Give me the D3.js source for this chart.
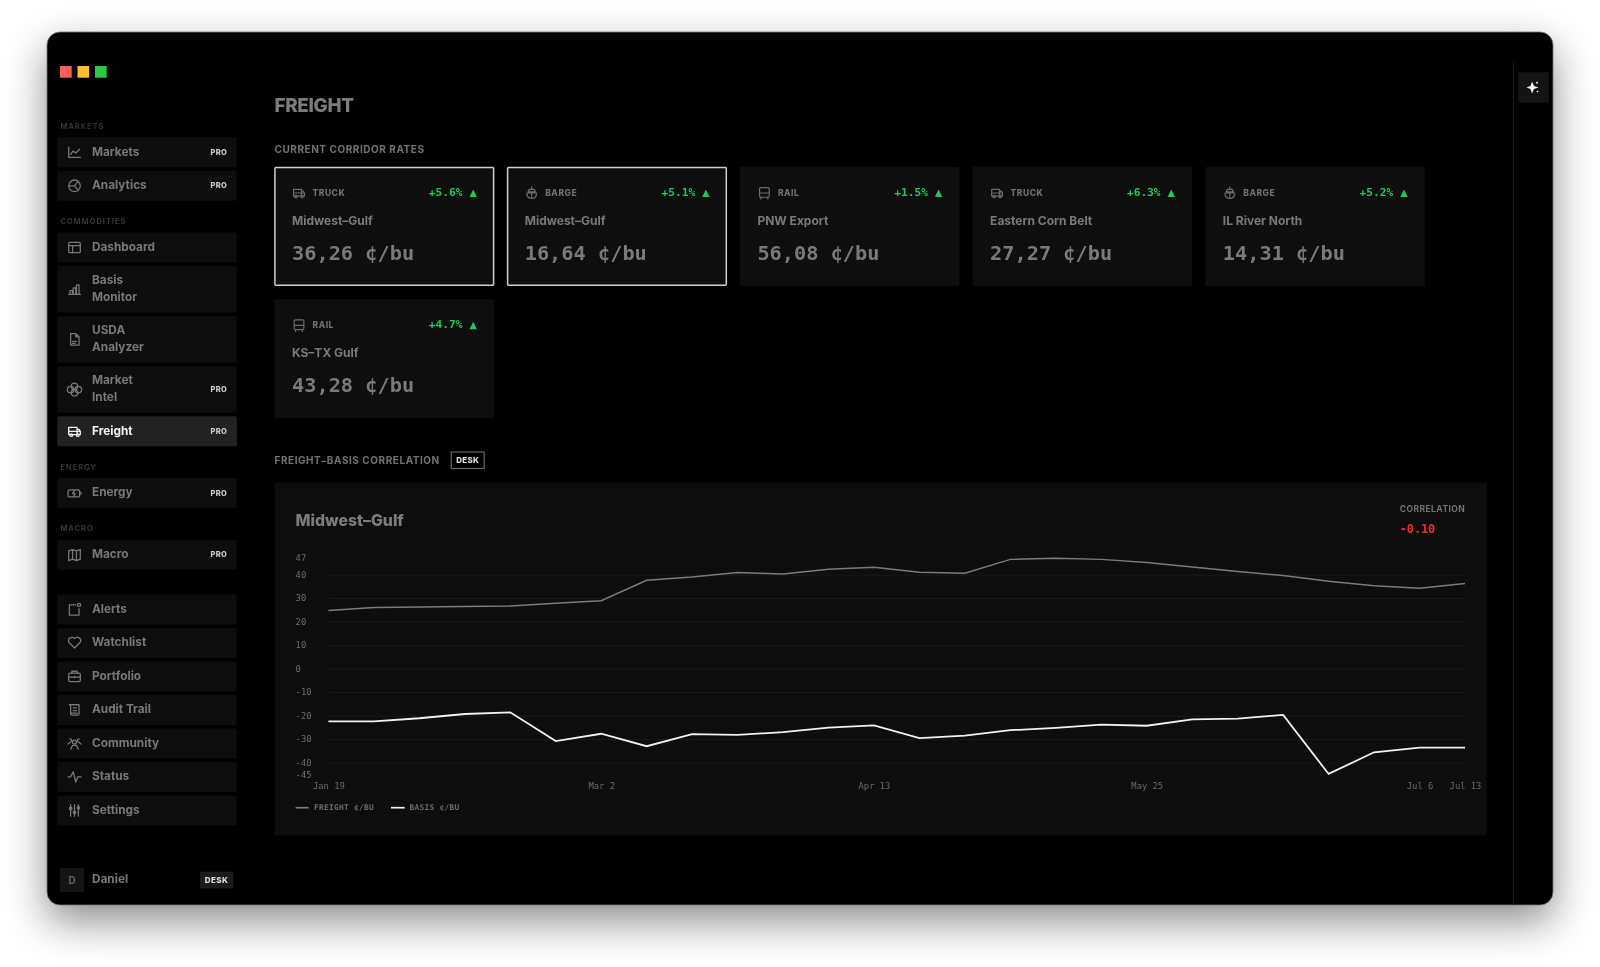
<!DOCTYPE html>
<html>
<head>
<meta charset="utf-8">
<script src="https://cdn.jsdelivr.net/npm/d3@7"></script>
<style>
  html, body { margin: 0; background: #fff; overflow: hidden; }
  svg { display: block; }
  text { dominant-baseline: central; font-family: Inter, sans-serif; }
  .mono { font-family: "DejaVu Sans Mono", monospace; }
  .icon { fill: none; stroke-linecap: round; stroke-linejoin: round; }
  .axis path { display: none; }
</style>
</head>
<body>
<div id="chart"></div>
<script>
// nav
const navGroups = ["MARKETS", "COMMODITIES", "ENERGY", "MACRO", ""];
const navItems = [
  [["Markets"], ["Analytics"]],
  [["Dashboard"], ["Basis", "Monitor"], ["USDA", "Analyzer"], ["Market", "Intel"], ["Freight"]],
  [["Energy"]],
  [["Macro"]],
  [["Alerts"], ["Watchlist"], ["Portfolio"], ["Audit Trail"], ["Community"], ["Status"], ["Settings"]]
];
const proItems = ["Markets", "Analytics", "Market", "Freight", "Energy", "Macro"];

// cards
const cardModes = ["TRUCK", "BARGE", "RAIL", "TRUCK", "BARGE", "RAIL"];
const cardCorridors = ["Midwest–Gulf", "Midwest–Gulf", "PNW Export", "Eastern Corn Belt", "IL River North", "KS–TX Gulf"];
const cardRates = [36.26, 16.64, 56.08, 27.27, 14.31, 43.28];
const cardChanges = [5.6, 5.1, 1.5, 6.3, 5.2, 4.7];

// chart
const weeks = ["Jan 19", "Jan 26", "Feb 2", "Feb 9", "Feb 16", "Feb 23", "Mar 2", "Mar 9", "Mar 16", "Mar 23", "Mar 30", "Apr 6", "Apr 13",
  "Apr 20", "Apr 27", "May 4", "May 11", "May 18", "May 25", "Jun 1", "Jun 8", "Jun 15", "Jun 22", "Jun 29", "Jul 6", "Jul 13"];
const freight = [24.7, 26, 26.2, 26.4, 26.7, 27.8, 28.9, 37.6, 39, 40.9, 40.3, 42.3, 43.1,
  41, 40.6, 46.5, 47, 46.5, 45.2, 43.3, 41.3, 39.6, 37.2, 35.3, 34.2, 36.26];
const basis = [-22.4, -22.4, -21.1, -19.3, -18.6, -30.8, -27.7, -33, -27.9, -28.2, -27, -25.1, -24.1,
  -29.6, -28.5, -26.2, -25.2, -23.8, -24.3, -21.6, -21.3, -19.7, -44.8, -35.6, -33.6, -33.6];
const xLabels = ["Jan 19", "Mar 2", "Apr 13", "May 25", "Jul 6", "Jul 13"];
const yLabels = [47, 40, 30, 20, 10, 0, -10, -20, -30, -40, -45];
const gridValues = [40, 30, 20, 10, 0, -10, -20, -30, -40];
const correlation = -0.10;

const truckIcon = '<path d="M3 6h13v11H3zM16 9h3l2 3v5h-5M3 12h18"/><circle cx="7" cy="18" r="2"/><circle cx="17" cy="18" r="2"/>';
const icons = {
  Markets: '<path d="M3 4v16h18M6 15l4-5 4 3 6-6"/>',
  Analytics: '<circle cx="12" cy="12" r="9"/><path d="M12 12l5-6M12 12H3.500M12 12l5 6"/>',
  Dashboard: '<rect x="3" y="4" width="18" height="16" rx="2"/><path d="M3 9h18M9 9v11"/>',
  Basis: '<path d="M3 20h18M5 20v-6h4v6M10 20V10h4v10M15 20V5h4v15"/>',
  USDA: '<path d="M6 3h8l5 5v13H6zM14 3v5h5M9 15h6M9 18h4"/>',
  Market: '<circle cx="12" cy="7" r="5"/><circle cx="6" cy="12" r="5"/><circle cx="18" cy="12" r="5"/><circle cx="12" cy="17" r="5"/>',
  Freight: truckIcon,
  Energy: '<rect x="2" y="7" width="18" height="11" rx="2"/><path d="M22 11v3M12 8l-3 5h4l-2 4"/>',
  Macro: '<path d="M3 6l6-2 6 2 6-2v15l-6 2-6-2-6 2zM9 4v15M15 6v15"/>',
  Alerts: '<path d="M14 5H4v16h15V11"/><circle cx="19" cy="5" r="2.400"/>',
  Watchlist: '<path d="M12 20l-8.500-8.500a5 5 0 0 1 8.500-6 5 5 0 0 1 8.500 6z"/>',
  Portfolio: '<rect x="3" y="7" width="18" height="13" rx="2"/><path d="M8 7V4h8v3M3 13h18M12 12v2"/>',
  "Audit Trail": '<path d="M8 4h11v14a2 2 0 0 1-2 2H8a2 2 0 0 1-2-2V6a2 2 0 0 0-2-2h4M6 17h10M10 9h5M10 13h5"/>',
  Community: '<circle cx="12" cy="10" r="3"/><path d="M6 21l3-6h6l3 6M5 5a2.500 2.500 0 0 1 2 4L2 13M19 5a2.500 2.500 0 0 0-2 4l5 4"/>',
  Status: '<path d="M2 12h4l4-8 4 16 3-8h5"/>',
  Settings: '<path d="M6 3v18M12 3v18M18 3v18"/><circle cx="6" cy="9" r="2"/><circle cx="12" cy="15" r="2"/><circle cx="18" cy="8" r="2"/>',
  TRUCK: truckIcon,
  BARGE: '<path d="M8 6h8l2 4H6zM12 2v4M4 12h16c0 6-3 9-8 9s-8-3-8-9zM12 12v9"/>',
  RAIL: '<rect x="4" y="3" width="16" height="16" rx="2"/><path d="M4 12h16M7 19l-1 3M17 19l1 3"/>'
};

const svg = d3.select("#chart").append("svg").attr("width", 1600).attr("height", 967);
const root = svg.append("g").style("filter", "blur(0.4px)");

// window
root.append("rect").attr("x", 47).attr("y", 32).attr("width", 1506).attr("height", 873).attr("rx", 13)
  .attr("fill", "#000").attr("stroke", "#777").attr("stroke-width", 0.8)
  .style("filter", "drop-shadow(0 16px 20px rgba(0,0,0,.45))");

root.selectAll(".light").data(["#ff5f57", "#febc2e", "#28c840"]).enter().append("rect")
  .attr("x", (d, i) => 60 + i * 17.5).attr("y", 66).attr("width", 11.7).attr("height", 11.7).attr("fill", d => d);

function icon(parent, name, cx, cy, size, colour, weight) {
  return parent.append("g").attr("class", "icon")
    .attr("transform", `translate(${cx - size / 2},${cy - size / 2}) scale(${size / 24})`)
    .attr("stroke", colour).attr("stroke-width", weight).html(icons[name]);
}

// sidebar
const side = root.append("g");
let navY = 137.3;
navGroups.forEach((title, g) => {
  if (title) {
    side.append("text").attr("x", 60.5).attr("y", navY - 11).text(title)
      .attr("fill", "#3b3b3b").attr("font-size", 7.5).attr("font-weight", 600).attr("letter-spacing", 1);
  }
  navItems[g].forEach(lines => {
    const h = lines.length > 1 ? 46.6 : 30;
    const active = lines[0] === "Freight";
    const colour = active ? "#f2f2f2" : "#787878";
    side.append("rect").attr("x", 57.3).attr("y", navY).attr("width", 179.5).attr("height", h).attr("rx", 1.5)
      .attr("fill", active ? "#222" : "#0d0d0d");
    icon(side, lines[0], 74.5, navY + h / 2, 15.5, colour, 2);
    lines.forEach((l, i) => {
      side.append("text").attr("x", 92).attr("y", navY + h / 2 - 0.8 + (i - (lines.length - 1) / 2) * 16.6).text(l)
        .attr("fill", colour).attr("font-size", 11.8).attr("font-weight", 700);
    });
    if (proItems.includes(lines[0])) {
      side.append("text").attr("x", 227).attr("y", navY + h / 2).attr("text-anchor", "end").text("PRO")
        .attr("fill", "#d0d0d0").attr("font-size", 7.5).attr("font-weight", 800).attr("letter-spacing", 0.3);
    }
    navY += h + 3.5;
  });
  navY += g === 3 ? 21.2 : 28.2;
});

side.append("rect").attr("x", 60).attr("y", 868).attr("width", 24).attr("height", 24).attr("fill", "#151515");
side.append("text").attr("x", 72).attr("y", 879.5).attr("text-anchor", "middle").text("D")
  .attr("fill", "#666").attr("font-size", 10).attr("font-weight", 700);
side.append("text").attr("x", 92).attr("y", 879.2).text("Daniel")
  .attr("fill", "#787878").attr("font-size", 11.8).attr("font-weight", 700);
side.append("rect").attr("x", 200).attr("y", 871.7).attr("width", 33.3).attr("height", 16.7).attr("fill", "#1c1c1c");
side.append("text").attr("x", 216.6).attr("y", 880).attr("text-anchor", "middle").text("DESK")
  .attr("fill", "#ddd").attr("font-size", 8).attr("font-weight", 800).attr("letter-spacing", 0.4);

// right rail
root.append("line").attr("x1", 1513.5).attr("x2", 1513.5).attr("y1", 62).attr("y2", 905).attr("stroke", "#1b1b1b");
root.append("rect").attr("x", 1518.3).attr("y", 72.3).attr("width", 30.4).attr("height", 30.4).attr("fill", "#141414");
root.append("path").attr("transform", "translate(1533,87.500)")
  .attr("d", "M-1 -6L1 -1.500L5.500 0L1 1.500L-1 6L-2.500 1.500L-6.500 0L-2.500 -1.500Z M4 -6l1.200 1.200l-1.200 1.200l-1.200 -1.200Z M4.500 3l1 1l-1 1l-1 -1Z")
  .attr("fill", "#f2f2f2");

// headings
const main = root.append("g");
main.append("text").attr("x", 274.5).attr("y", 105.5).text("FREIGHT")
  .attr("fill", "#7c7c7c").attr("font-size", 18.8).attr("font-weight", 800).attr("letter-spacing", -0.3);
main.append("text").attr("x", 274.5).attr("y", 149.3).text("CURRENT CORRIDOR RATES")
  .attr("fill", "#727272").attr("font-size", 10).attr("font-weight", 700).attr("letter-spacing", 0.55);
main.append("text").attr("x", 274.5).attr("y", 460).text("FREIGHT–BASIS CORRELATION")
  .attr("fill", "#727272").attr("font-size", 10).attr("font-weight", 700).attr("letter-spacing", 0.55);
main.append("rect").attr("x", 451.2).attr("y", 452).attr("width", 33).attr("height", 16.5)
  .attr("fill", "none").attr("stroke", "#666").attr("stroke-width", 1.2);
main.append("text").attr("x", 467.7).attr("y", 460.2).attr("text-anchor", "middle").text("DESK")
  .attr("fill", "#ddd").attr("font-size", 8).attr("font-weight", 800).attr("letter-spacing", 0.3);

// cards
cardRates.forEach((rate, i) => {
  const selected = i < 2;
  const c = main.append("g")
    .attr("transform", `translate(${274.5 + (i % 5) * 232.7},${167 + Math.floor(i / 5) * 132.3})`);
  c.append("rect").attr("x", selected ? 0.4 : 0).attr("y", selected ? 0.4 : 0)
    .attr("width", selected ? 218.7 : 219.5).attr("height", selected ? 117.9 : 118.7).attr("rx", 1)
    .attr("fill", "#0e0e0e").attr("stroke", selected ? "#cfcfcf" : "none").attr("stroke-width", 1.5);
  icon(c, cardModes[i], 24.5, 26, 14.5, "#6c6c6c", 2);
  c.append("text").attr("x", 38).attr("y", 26).text(cardModes[i])
    .attr("fill", "#707070").attr("font-size", 8.5).attr("font-weight", 800).attr("letter-spacing", 0.5);
  c.append("text").attr("class", "mono").attr("x", 188).attr("y", 25.7).attr("text-anchor", "end")
    .text("+" + cardChanges[i].toFixed(1) + "%").attr("fill", "#1ec95c").attr("font-size", 11.2).attr("font-weight", 700);
  c.append("path").attr("d", "M195 30L198.700 22.500L202.400 30Z").attr("fill", "#1ec95c");
  c.append("text").attr("x", 17.5).attr("y", 53.3).text(cardCorridors[i])
    .attr("fill", "#7a7a7a").attr("font-size", 12).attr("font-weight", 700);
  c.append("text").attr("class", "mono").attr("x", 17.5).attr("y", 85.7)
    .text(rate.toFixed(2).replace(".", ",") + " ¢/bu")
    .attr("fill", "#7a7a7a").attr("font-size", 20.3).attr("font-weight", 700);
});

// chart panel
main.append("rect").attr("x", 274.5).attr("y", 482.6).attr("width", 1212.2).attr("height", 353).attr("rx", 1).attr("fill", "#0d0d0d");
main.append("text").attr("x", 295.6).attr("y", 520).text("Midwest–Gulf")
  .attr("fill", "#7c7c7c").attr("font-size", 15.8).attr("font-weight", 800);
main.append("text").attr("x", 1399.7).attr("y", 509).text("CORRELATION")
  .attr("fill", "#747474").attr("font-size", 8.500).attr("font-weight", 700).attr("letter-spacing", 0.45);
main.append("text").attr("class", "mono").attr("x", 1399.7).attr("y", 528.7).text(correlation.toFixed(2))
  .attr("fill", "#ea2f2f").attr("font-size", 11.800).attr("font-weight", 700);

const x = d3.scalePoint().domain(weeks).range([328.4, 1465]);
const y = d3.scaleLinear().domain([-45, 47]).range([774.4, 558.2]);

main.append("g").attr("class", "axis").attr("transform", "translate(328.4,0)")
  .call(d3.axisLeft(y).tickValues(gridValues).tickSize(-(1465 - 328.4)).tickFormat(""))
  .call(g => g.selectAll("line").attr("stroke", "#1a1a1a"));

const yAxis = main.append("g").attr("class", "axis mono").attr("transform", "translate(295.6,0)")
  .call(d3.axisLeft(y).tickValues(yLabels).tickSize(0));
yAxis.selectAll("text").attr("x", 0).attr("dy", "-0.04em").attr("text-anchor", "start")
  .attr("class", "mono").attr("fill", "#6c6c6c").attr("font-size", 8.800).text(d => d);

const xAxis = main.append("g").attr("class", "axis").attr("transform", "translate(0,785.7)")
  .call(d3.axisBottom(x).tickValues(xLabels).tickSize(0));
xAxis.selectAll("text").attr("y", 0).attr("dy", null)
  .attr("class", "mono").attr("fill", "#6c6c6c").attr("font-size", 8.800);

const line = d3.line().x((d, i) => x(weeks[i])).y(d => y(d));
main.append("path").datum(freight).attr("d", line).attr("fill", "none").attr("stroke", "#7c7c7c").attr("stroke-width", 1.5);
main.append("path").datum(basis).attr("d", line).attr("fill", "none").attr("stroke", "#f2f2f2").attr("stroke-width", 1.8);

// legend
[["FREIGHT ¢/BU", "#7c7c7c", 295.6, 13, 314], ["BASIS ¢/BU", "#f2f2f2", 391, 13.7, 409.5]].forEach(l => {
  main.append("line").attr("x1", l[2]).attr("x2", l[2] + l[3]).attr("y1", 807.7).attr("y2", 807.7)
    .attr("stroke", l[1]).attr("stroke-width", 1.7);
  main.append("text").attr("class", "mono").attr("x", l[4]).attr("y", 807.7).text(l[0])
    .attr("fill", "#6c6c6c").attr("font-size", 7.800).attr("font-weight", 700).attr("letter-spacing", 0.3);
});
</script>
</body>
</html>
